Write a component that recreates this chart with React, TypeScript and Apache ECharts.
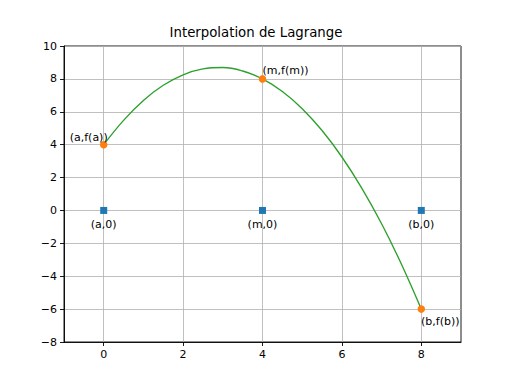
import React, { useEffect, useRef } from "react";
import * as echarts from "echarts";

const titleText = "Interpolation de Lagrange";
const xTicks = [0, 2, 4, 6, 8];
const yTicks = [-8, -6, -4, -2, 0, 2, 4, 6, 8, 10];

// Interpolated curve
const curveX = [0, 0.5, 1, 1.5, 2, 2.5, 3, 3.5, 4, 4.5, 5, 5.5, 6, 6.5, 7, 7.5, 8];
const curveY = [4, 5.48, 6.69, 7.61, 8.25, 8.61, 8.69, 8.48, 8, 7.23, 6.19, 4.86, 3.25, 1.36, -0.81, -3.27, -6];

// Nodes on the curve
const nodeX = [0, 4, 8];
const nodeY = [4, 8, -6];
const nodeLabels = ["(a,f(a))", "(m,f(m))", "(b,f(b))"];

// Nodes on the x axis
const baseX = [0, 4, 8];
const baseY = [0, 0, 0];
const baseLabels = ["(a,0)", "(m,0)", "(b,0)"];

const FONT = "DejaVu Sans";
const fmt = (v: number) => String(v).replace("-", "\u2212");

export default function App() {
  const ref = useRef<HTMLDivElement>(null);
  useEffect(() => {
    if (!ref.current) return;
    const chart = echarts.init(ref.current, null, { renderer: "svg" });
    const nodeOffsets = [[-15, -7], [23, -8], [19, 12]];
    const labelStyle = {
      fontFamily: FONT,
      fontSize: 11,
      color: "#000",
      textBorderWidth: 0,
      textBorderColor: "transparent",
    };
    chart.setOption({
      animation: false,
      backgroundColor: "#ffffff",
      title: {
        text: titleText,
        left: "center",
        top: 21,
        textStyle: { fontFamily: FONT, fontSize: 13.3, fontWeight: "normal", color: "#000" },
      },
      grid: {
        left: 64,
        top: 46,
        width: 397,
        height: 296,
        show: true,
        borderColor: "#000",
        borderWidth: 0.9,
        backgroundColor: "transparent",
      },
      xAxis: {
        type: "value",
        min: -1,
        max: 9,
        axisLine: { show: true, onZero: false, lineStyle: { color: "#000", width: 0.9 } },
        axisTick: { show: true, length: 4, lineStyle: { color: "#000", width: 0.9 }, customValues: xTicks },
        axisLabel: {
          customValues: xTicks,
          formatter: fmt,
          fontFamily: FONT,
          fontSize: 11,
          color: "#000",
          margin: 7,
        },
        splitLine: { show: true, lineStyle: { color: "#b0b0b0", width: 0.8 } },
      },
      yAxis: {
        type: "value",
        min: -8,
        max: 10,
        interval: 2,
        axisLine: { show: true, onZero: false, lineStyle: { color: "#000", width: 0.9 } },
        axisTick: { show: true, length: 4, lineStyle: { color: "#000", width: 0.9 } },
        axisLabel: {
          formatter: fmt,
          fontFamily: FONT,
          fontSize: 11,
          color: "#000",
          margin: 7,
        },
        splitLine: { show: true, lineStyle: { color: "#b0b0b0", width: 0.8 } },
      },
      series: [
        {
          type: "line",
          data: curveX.map((x, i) => [x, curveY[i]]),
          smooth: 0.4,
          showSymbol: false,
          symbol: "none",
          lineStyle: { color: "#2ca02c", width: 1.35 },
          z: 2,
        },
        {
          type: "scatter",
          symbol: "rect",
          symbolSize: 7,
          itemStyle: { color: "#1f77b4", opacity: 1 },
          z: 3,
          data: baseX.map((x, i) => ({
            value: [x, baseY[i]],
            label: {
              show: true,
              formatter: baseLabels[i],
              position: "inside",
              offset: [0, 14],
              ...labelStyle,
            },
          })),
        },
        {
          type: "scatter",
          symbol: "circle",
          symbolSize: 7.5,
          itemStyle: { color: "#ff7f0e", opacity: 1 },
          z: 4,
          data: nodeX.map((x, i) => ({
            value: [x, nodeY[i]],
            label: {
              show: true,
              formatter: nodeLabels[i],
              position: "inside",
              offset: nodeOffsets[i],
              ...labelStyle,
            },
          })),
        },
      ],
    });
    return () => chart.dispose();
  }, []);
  return (
    <div
      ref={ref}
      style={{ position: "fixed", left: 0, top: 0, width: 512, height: 384, background: "#fff" }}
    />
  );
}
